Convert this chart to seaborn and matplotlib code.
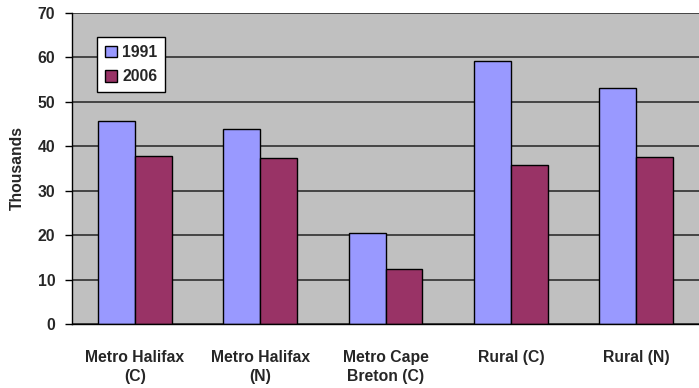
import matplotlib
matplotlib.use("Agg")
import matplotlib.pyplot as plt
import seaborn as sns
import pandas as pd
from matplotlib.patches import Patch

categories = ["Metro Halifax\n(C)", "Metro Halifax\n(N)", "Metro Cape\nBreton (C)", "Rural (C)", "Rural (N)"]
years = ["1991", "2006"]
values_1991 = [45.8, 44.0, 20.5, 59.3, 53.2]
values_2006 = [37.9, 37.4, 12.4, 35.9, 37.6]
y_ticks = [0, 10, 20, 30, 40, 50, 60, 70]

df = pd.DataFrame({
    "category": categories * 2,
    "year": [years[0]] * len(categories) + [years[1]] * len(categories),
    "value": values_1991 + values_2006,
})

sns.set_theme(style="white")
plt.rcParams["font.family"] = ["Liberation Sans", "DejaVu Sans"]

colors = {"1991": "#9999FF", "2006": "#993366"}
fs = 11.3

fig = plt.figure(figsize=(6.99, 3.88), dpi=100)
ax = fig.add_axes([72 / 699, 1 - 324 / 388, 1 - 72 / 699, (324 - 13) / 388])
ax.set_facecolor("#C0C0C0")

for v in y_ticks:
    ax.axhline(v, color="#3a3a3a", lw=1.3, zorder=0.5)

sns.barplot(data=df, x="category", y="value", hue="year", palette=colors,
            order=categories, hue_order=years, width=0.59,
            edgecolor="black", linewidth=1.0, saturation=1, ax=ax, legend=False, zorder=2)

ax.set_ylim(0, 70)
ax.set_xlim(-0.5, len(categories) - 0.5)
ax.set_yticks(y_ticks)
ax.set_yticklabels([str(t) for t in y_ticks], fontsize=fs, fontweight="bold")
ax.set_xticks(range(len(categories)))
ax.set_xticklabels(categories, fontsize=fs, fontweight="bold", linespacing=1.3)
ax.set_xticks([i - 0.5 for i in range(len(categories) + 1)], minor=True)
ax.tick_params(axis="x", which="major", length=0, pad=19)
ax.tick_params(axis="x", which="minor", length=5, width=1, color="black", direction="out")
ax.tick_params(axis="y", length=5, width=1, color="black", direction="out", left=True, pad=7)
ax.set_xlabel("")
ax.set_ylabel("Thousands", fontsize=fs, fontweight="bold", labelpad=9)

for s in ["top", "right"]:
    ax.spines[s].set_visible(False)
for s in ["left", "bottom"]:
    ax.spines[s].set_color("black")
    ax.spines[s].set_linewidth(1.0)

handles = [Patch(facecolor=colors[y], edgecolor="black", label=y) for y in years]
leg = ax.legend(handles=handles, loc="upper left", bbox_to_anchor=(25 / 627, 1 - 24 / 311),
                frameon=True, fancybox=False, edgecolor="black", facecolor="white",
                framealpha=1, prop={"weight": "bold", "size": fs},
                handlelength=0.75, handleheight=0.75, handletextpad=0.35,
                labelspacing=0.6, borderpad=0.5, borderaxespad=0)
leg.get_frame().set_linewidth(1.0)

fig.savefig("out.png", dpi=100)
